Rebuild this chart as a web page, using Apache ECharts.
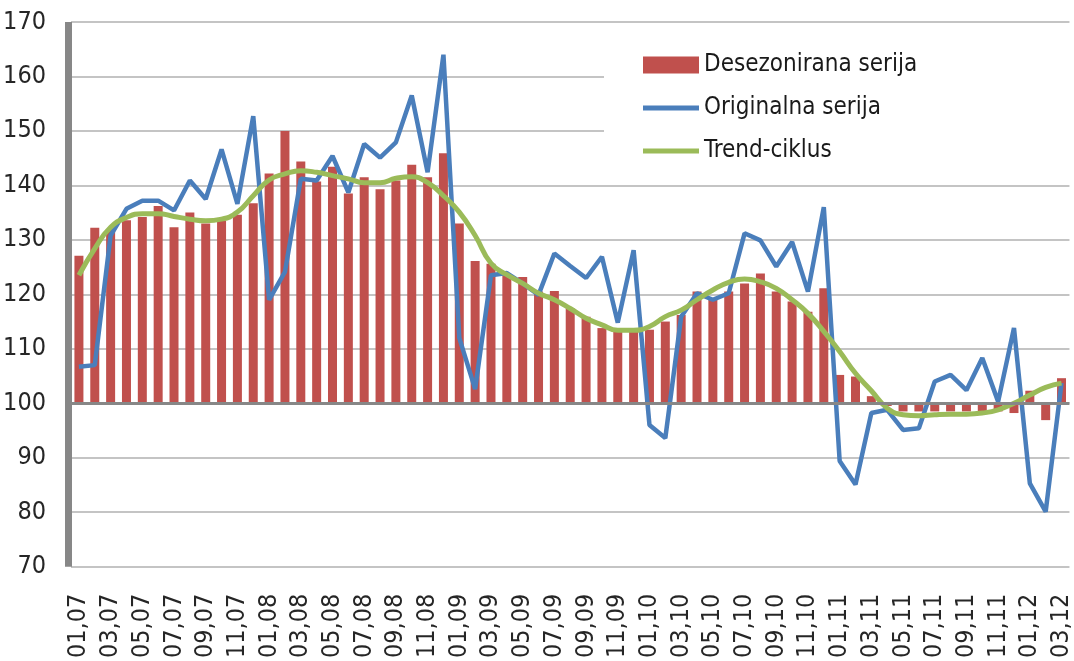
<!DOCTYPE html>
<html>
<head>
<meta charset="utf-8">
<script src="https://cdn.jsdelivr.net/npm/echarts@6/dist/echarts.min.js"></script>
<style>
  html, body { margin: 0; padding: 0; background: #fff; }
  #chart { width: 1074px; height: 661px; }
</style>
</head>
<body>
<div id="chart"></div>
<script>
// months 01,07 .. 03,12
const months = [];
for (let y = 7; y <= 12; y++) {
    for (let m = 1; m <= 12; m++) {
        if (y === 12 && m > 3) break;
        months.push(String(m).padStart(2, '0') + ',' + String(y).padStart(2, '0'));
    }
}

const desezonirana = [127.1, 132.2, 132.0, 133.6, 134.2, 136.2, 132.3, 135.0, 133.0, 133.5, 134.6, 136.7,
    142.2, 150.0, 144.4, 140.7, 143.4, 138.5, 141.5, 139.3, 140.9, 143.8, 141.5, 145.9,
    133.0, 126.1, 125.6, 123.5, 123.2, 120.5, 120.6, 117.4, 115.9, 113.8, 113.1, 113.1,
    113.5, 115.0, 116.2, 120.5, 119.3, 120.5, 122.0, 123.8, 120.5, 118.7, 116.8, 121.1,
    105.2, 104.9, 101.3, 99.5, 98.5, 98.5, 98.5, 98.5, 98.5, 98.5, 98.5, 98.2,
    102.3, 96.9, 104.6];

const originalna = [106.7, 107.0, 130.8, 135.7, 137.2, 137.2, 135.4, 140.9, 137.5, 146.6, 136.6, 152.7,
    119.0, 124.1, 141.2, 140.9, 145.4, 138.7, 147.6, 145.1, 147.9, 156.5, 142.4, 164.0,
    112.0, 102.6, 123.5, 123.9, 122.0, 119.9, 127.5, 125.2, 123.0, 126.9, 114.8, 128.1,
    96.0, 93.6, 115.9, 120.2, 119.0, 120.2, 131.2, 129.9, 125.1, 129.6, 120.5, 136.0,
    89.4, 85.1, 98.2, 98.8, 95.1, 95.4, 104.0, 105.2, 102.4, 108.3, 100.3, 113.8,
    85.3, 80.1, 103.7];

const trendCiklus = [123.5, 128.4, 132.3, 134.1, 134.8, 134.8, 134.3, 133.8, 133.5, 133.8, 135.1, 138.1,
    141.0, 142.1, 142.7, 142.4, 141.8, 141.2, 140.5, 140.5, 141.3, 141.6, 140.5, 138.1,
    135.1, 130.8, 125.7, 123.6, 122.0, 120.2, 119.0, 117.4, 115.6, 114.4, 113.4, 113.4,
    114.1, 115.9, 117.1, 119.0, 120.8, 122.2, 122.8, 122.3, 121.1, 119.0, 116.5, 113.2,
    109.5, 105.5, 102.3, 99.1, 97.9, 97.7, 97.9, 98.0, 98.0, 98.2, 98.8, 100.0,
    101.5, 102.9, 103.7];

const BASE = 100;
const FONT = "'Liberation Sans Narrow', 'DejaVu Sans Condensed', 'Liberation Sans', sans-serif";
const LINE_ICON = 'path://M0,0H58V5H0Z';

const chart = echarts.init(document.getElementById('chart'));

// bars hang from the 100 line: invisible base + signed difference
const baseBars = months.map(() => BASE);
const diffBars = desezonirana.map(v => +(v - BASE).toFixed(1));

const option = {
    animation: false,
    grid: { left: 71, right: 1, top: 22, bottom: 93 },
    legend: {
        orient: 'vertical',
        left: 604,
        top: 32,
        padding: [20, 200, 16, 39],
        backgroundColor: '#ffffff',
        itemWidth: 56,
        itemHeight: 17,
        itemGap: 17,
        textStyle: { fontFamily: FONT, fontSize: 24, color: '#1a1a1a', lineHeight: 26 },
        data: [
            { name: 'Desezonirana serija', icon: 'rect' },
            { name: 'Originalna serija', icon: LINE_ICON },
            { name: 'Trend-ciklus', icon: LINE_ICON }
        ]
    },
    xAxis: {
        type: 'category',
        data: months,
        boundaryGap: true,
        axisLine: { show: false },
        axisTick: { show: false },
        axisLabel: {
            interval: 1,
            rotate: 90,
            margin: 27,
            fontFamily: FONT,
            fontSize: 25,
            color: '#262626'
        },
        splitLine: { show: false }
    },
    yAxis: {
        type: 'value',
        min: 70,
        max: 170,
        interval: 10,
        offset: 3,
        axisLine: { show: true, lineStyle: { color: '#878787', width: 7, cap: 'butt' } },
        axisTick: { show: false },
        axisLabel: {
            margin: 22,
            fontFamily: FONT,
            fontSize: 25,
            color: '#262626'
        },
        splitLine: { show: true, lineStyle: { color: '#c4c4c4', width: 2 } }
    },
    series: [
        {
            type: 'bar',
            stack: 'desez',
            stackStrategy: 'all',
            barWidth: 9,
            silent: true,
            itemStyle: { color: 'rgba(0,0,0,0)' },
            data: baseBars
        },
        {
            name: 'Desezonirana serija',
            type: 'bar',
            stack: 'desez',
            stackStrategy: 'all',
            barWidth: 9,
            itemStyle: { color: '#c0504d' },
            data: diffBars,
            markLine: {
                silent: true,
                symbol: 'none',
                label: { show: false },
                lineStyle: { color: '#878787', width: 3, type: 'solid' },
                data: [{ yAxis: BASE }]
            }
        },
        {
            name: 'Originalna serija',
            type: 'line',
            showSymbol: false,
            symbol: 'none',
            lineStyle: { color: '#4a7ebb', width: 4.5 },
            itemStyle: { color: '#4a7ebb' },
            data: originalna
        },
        {
            name: 'Trend-ciklus',
            type: 'line',
            smooth: true,
            showSymbol: false,
            symbol: 'none',
            lineStyle: { color: '#9bbb59', width: 5 },
            itemStyle: { color: '#9bbb59' },
            data: trendCiklus
        }
    ]
};

chart.setOption(option);
</script>
</body>
</html>
